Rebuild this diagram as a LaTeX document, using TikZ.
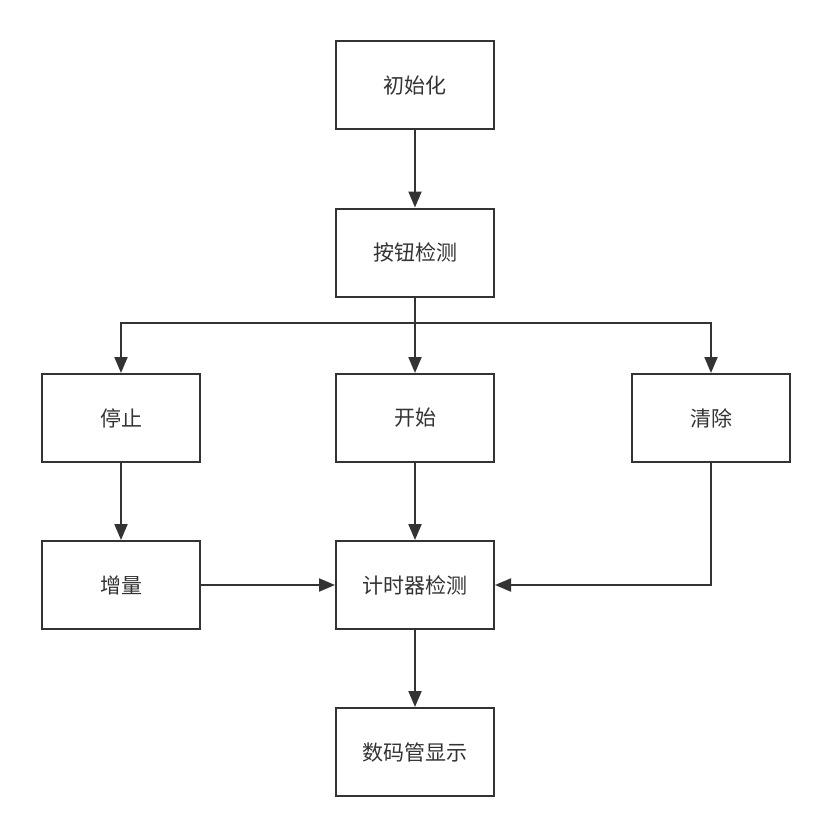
\documentclass[tikz,border=0pt]{standalone}
\usepackage{fontspec}
\setmainfont{Noto Sans CJK SC}
\usetikzlibrary{arrows.meta}
\definecolor{ln}{HTML}{333333}
\begin{document}
\begin{tikzpicture}[x=1pt,y=-1pt,
  box/.style={draw=ln,line width=2pt,minimum width=158pt,minimum height=88pt,inner sep=0pt,
    font=\fontsize{21pt}{24pt}\selectfont,text=ln},
  conn/.style={draw=ln,line width=2pt,-{Triangle[length=16pt,width=13pt]}}]
\useasboundingbox (0,0) rectangle (830,837);
\fill[white] (0,0) rectangle (830,837);
\node[box] (init) at (415,85.5) {初始化};
\node[box] (btn) at (415,252.5) {按钮检测};
\node[box] (stop) at (121,418) {停止};
\node[box] (start) at (415,418) {开始};
\node[box] (clr) at (711,418) {清除};
\node[box] (inc) at (121,585) {增量};
\node[box] (tim) at (415,585) {计时器检测};
\node[box] (disp) at (415,752) {数码管显示};
\coordinate (j) at (415,323);
\draw[conn] (init) -- (btn);
\draw[conn] (btn) -- (start);
\draw[conn] (btn.south) |- (j) -| (stop.north);
\draw[conn] (j) -| (clr.north);
\draw[conn] (stop) -- (inc);
\draw[conn] (start) -- (tim);
\draw[conn] (inc) -- (tim);
\draw[conn] (clr.south) |- (tim.east);
\draw[conn] (tim) -- (disp);
\end{tikzpicture}
\end{document}
